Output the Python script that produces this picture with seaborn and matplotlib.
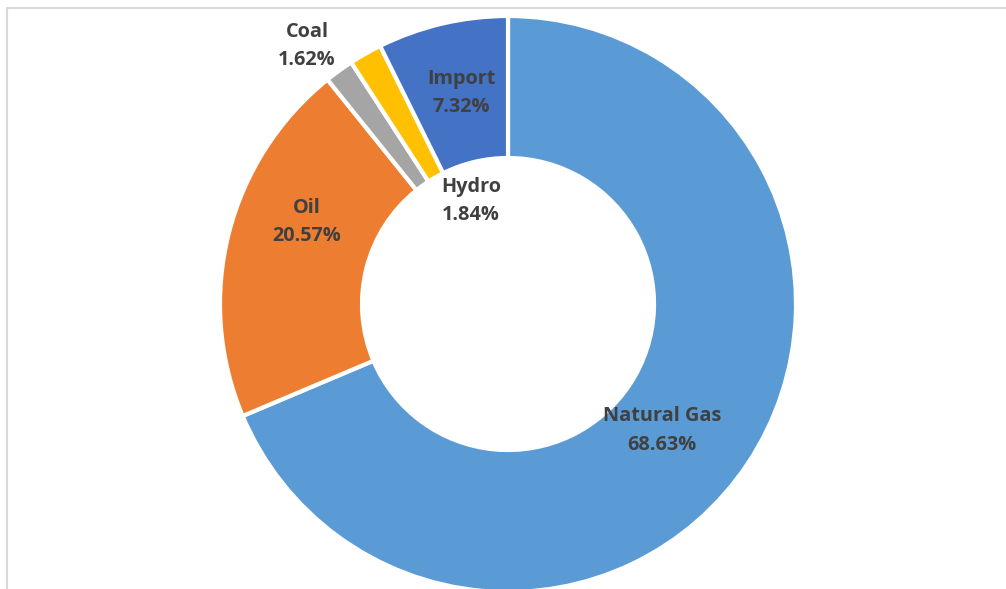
import matplotlib
matplotlib.use("Agg")
import matplotlib.pyplot as plt
from matplotlib.lines import Line2D
import seaborn as sns

# Electricity generation mix by source (share of total, %)
sources = ["Natural Gas", "Oil", "Coal", "Hydro", "Import"]
shares = [68.63, 20.57, 1.62, 1.84, 7.32]
colors = ["#5B9BD5", "#ED7D31", "#A5A5A5", "#FFC000", "#4472C4"]

# Label anchor points (data units, donut radius = 1)
label_pos = {
    "Natural Gas": (0.535, -0.44),
    "Oil": (-0.698, 0.285),
    "Coal": (-0.698, 0.896),
    "Hydro": (-0.128, 0.358),
    "Import": (-0.163, 0.733),
}

sns.set_theme(style="white")
plt.rcParams["font.family"] = ["Open Sans", "DejaVu Sans"]

W, H, DPI = 1006, 589, 100
fig = plt.figure(figsize=(W / DPI, H / DPI), dpi=DPI)
ax = fig.add_axes([0, 0, 1, 1])

ax.pie(
    shares,
    colors=colors,
    startangle=90,
    counterclock=False,
    radius=1.0,
    wedgeprops=dict(width=0.493, edgecolor="white", linewidth=3),
)

# Map data units onto pixels: centre at (508, 304) px, radius 288 px
cx, cy, R = 508, 304, 288
ax.set_xlim((0 - cx) / R, (W - cx) / R)
ax.set_ylim(-(H - cy) / R, cy / R)
ax.set_aspect("auto")
ax.axis("off")

for name, val in zip(sources, shares):
    x, y = label_pos[name]
    ax.text(x, y, f"{name}\n{val:.2f}%", ha="center", va="center",
            fontsize=14.3, fontweight="bold", color="#404040",
            linespacing=1.58)

# Chart-area border (top and left edges)
fx0 = 6.5 / W
fy0 = 1 - 7.5 / H
fig.add_artist(Line2D([fx0, 1.0], [fy0, fy0], transform=fig.transFigure,
                      color="#D9D9D9", linewidth=1.5))
fig.add_artist(Line2D([fx0, fx0], [0.0, fy0], transform=fig.transFigure,
                      color="#D9D9D9", linewidth=1.5))

fig.savefig("out.png", dpi=DPI, facecolor="white")
